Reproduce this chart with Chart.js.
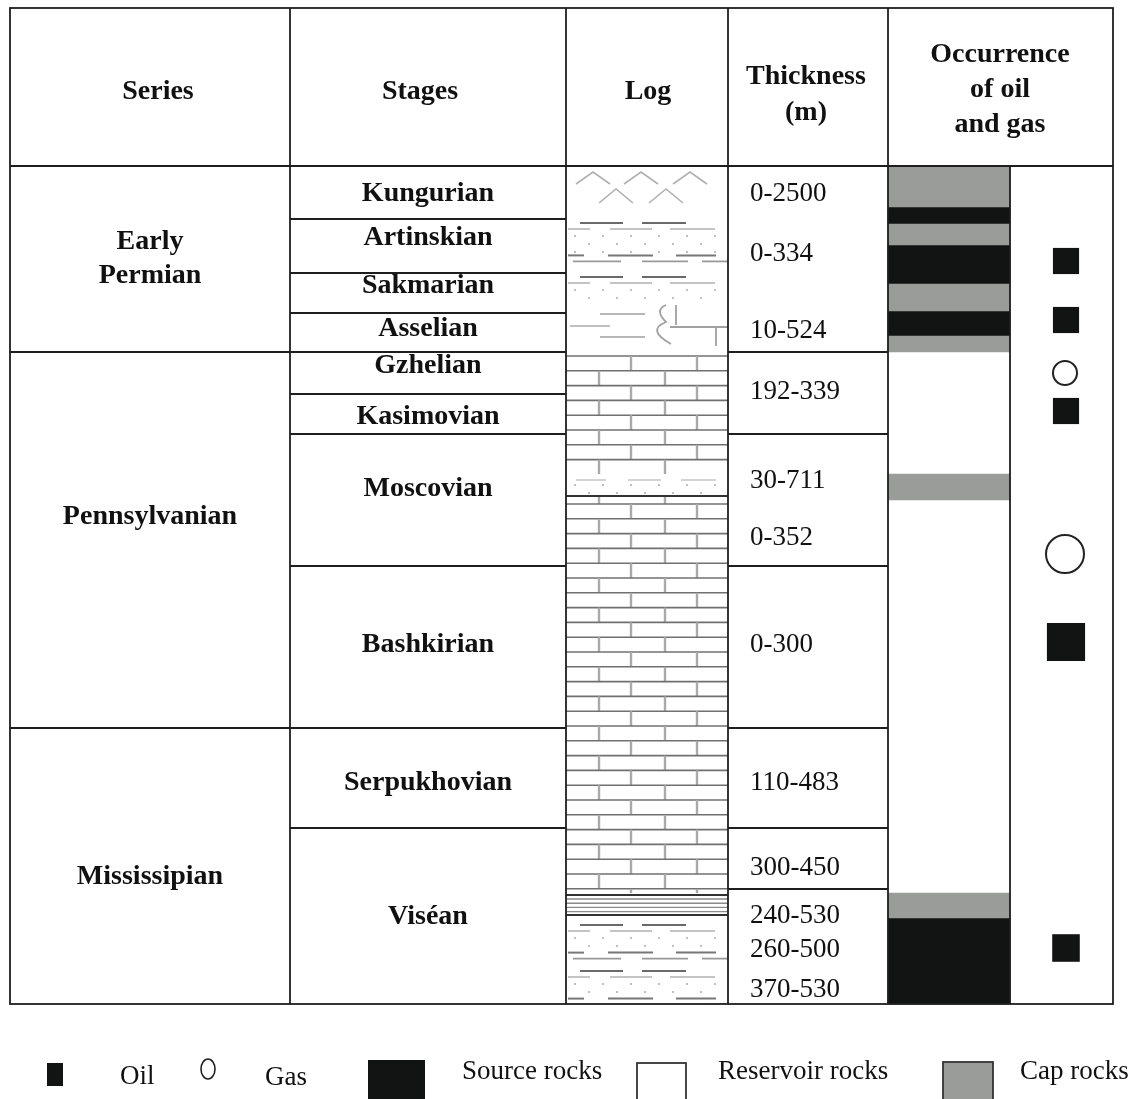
<!DOCTYPE html>
<html lang="en">
<head>
<meta charset="UTF-8">
<title>Stratigraphic column</title>
<script src="https://cdn.jsdelivr.net/npm/chart.js"></script>
<style>
  body { margin: 0; background: #fff; }
  .wrap { width: 1139px; height: 1099px; position: relative; }
</style>
</head>
<body>
<div class="wrap"><canvas id="column"></canvas></div>
<script>
// ---- data (depth in chart units, measured down from the top of the figure) ----
const seriesNames = [['Early', 'Permian'], ['Pennsylvanian'], ['Mississipian']];
const seriesTops = [166, 352, 728, 1004];
const seriesLabelDepth = [259, 517, 877];

const stageNames = ['Kungurian', 'Artinskian', 'Sakmarian', 'Asselian', 'Gzhelian',
                    'Kasimovian', 'Moscovian', 'Bashkirian', 'Serpukhovian', 'Viséan'];
const stageTops = [166, 219, 273, 313, 352, 394, 434, 566, 728, 828, 1004];
const stageLabelDepth = [194, 238, 286, 329, 366, 417, 489, 645, 783, 917];

const thicknessLabels = ['0-2500', '0-334', '10-524', '192-339', '30-711', '0-352',
                         '0-300', '110-483', '300-450', '240-530', '260-500', '370-530'];
const thicknessDepth = [194, 254, 331, 392, 481, 538, 645, 783, 868, 916, 950, 990];
const thicknessCellTops = [166, 352, 434, 566, 728, 828, 889, 1004];

// lithology of the log column
const logUnits = [
  [166, 210, 'anhydrite'], [210, 300, 'siltA'], [300, 352, 'marl'],
  [352, 474, 'limestone'], [474, 497, 'sand'], [497, 893, 'limestone'],
  [893, 916, 'laminated'], [916, 1004, 'siltB']
];

// occurrence of oil and gas
const capRocks = [[166, 207], [224, 245], [284, 311], [336, 352], [474, 500], [893, 918]];
const sourceRocks = [[207, 224], [245, 284], [311, 336], [918, 1004]];
const oilShows = [261, 320, 411, 642, 948];
const gasShows = [373, 554];

// ---- layout ----
const colEdges = [10, 290, 566, 728, 888, 1010, 1113];
const tableTop = 8, headBottom = 166, tableBottom = 1004;
const oilSize = [18.5, 18.5, 18.5, 27, 19.5];
const gasSize = [12, 19];
const BLACK = '#121414', GREY = '#9a9c9a', LINE = '#1e1e1e';
const SERIF = "'Liberation Serif', 'Times New Roman', serif";

function line(ctx, x0, y0, x1, y1) {
  ctx.beginPath(); ctx.moveTo(x0, y0); ctx.lineTo(x1, y1); ctx.stroke();
}

function dashRow(ctx, x0, y, segs, color, w) {
  ctx.strokeStyle = color; ctx.lineWidth = w;
  segs.forEach(s => line(ctx, x0 + s[0], y, x0 + s[1], y));
}

function dots(ctx, x0, x1, y0, y1) {
  ctx.fillStyle = '#c0c0c0';
  let r = 0;
  for (let y = y0; y < y1; y += 8, r++) {
    for (let x = x0 + 8 + (r % 2) * 14; x < x1 - 2; x += 28) ctx.fillRect(x, y, 2, 2);
  }
}

function silt(ctx, x0, x1, y0, y1, period) {
  for (let y = y0 + 8; y < y1; y += period) {
    dashRow(ctx, x0, y, [[14, 57], [76, 120]], '#6a6a6a', 2);
    dashRow(ctx, x0, y + 6, [[2, 24], [44, 86], [104, 149]], '#b0b0b0', 1.5);
    dots(ctx, x0, x1, y + 12, y + period * 0.55);
    dashRow(ctx, x0, y + period * 0.6, [[2, 18], [42, 87], [110, 150]], '#777', 2);
    dashRow(ctx, x0, y + period * 0.6 + 6, [[7, 55], [76, 122], [136, 162]], '#999', 1.8);
  }
}

function drawLog(chart) {
  const { ctx, scales: { x: xs, y: ys } } = chart;
  const X = v => xs.getPixelForValue(v), Y = v => ys.getPixelForValue(v);
  const x0 = X(colEdges[2]), x1 = X(colEdges[3]);
  logUnits.forEach(([top, bot, kind]) => {
    const y0 = Y(top), y1 = Y(bot);
    ctx.save();
    ctx.beginPath(); ctx.rect(x0, y0, x1 - x0, y1 - y0); ctx.clip();
    if (kind === 'limestone') {
      let row = 0;
      for (let y = Y(352) + 4; y < Y(tableBottom); y += 14.8, row++) {
        if (y + 15 < y0 || y > y1) continue;
        ctx.strokeStyle = '#707070'; ctx.lineWidth = 1.6;
        line(ctx, x0, y, x1, y);
        ctx.strokeStyle = '#aaaaaa'; ctx.lineWidth = 2.4;
        for (let x = x0 + (row % 2 ? 33 : 65); x < x1; x += 66) line(ctx, x, y, x, y + 14.8);
      }
    } else if (kind === 'anhydrite') {
      ctx.strokeStyle = '#b0b0b0'; ctx.lineWidth = 1.6;
      [[27, 172, 184], [75, 172, 184], [124, 172, 184], [50, 189, 203], [100, 189, 203]].forEach(([cx, a, b]) => {
        ctx.beginPath();
        ctx.moveTo(x0 + cx - 17, Y(b)); ctx.lineTo(x0 + cx, Y(a)); ctx.lineTo(x0 + cx + 17, Y(b));
        ctx.stroke();
      });
    } else if (kind === 'siltA') {
      silt(ctx, x0, x1, y0 + 5, y1, 54);
    } else if (kind === 'siltB') {
      silt(ctx, x0, x1, y0 + 1, y1, 46);
    } else if (kind === 'marl') {
      dashRow(ctx, x0, Y(314), [[34, 79]], '#b8b8b8', 2);
      dashRow(ctx, x0, Y(326), [[4, 44]], '#c0c0c0', 2);
      dashRow(ctx, x0, Y(337), [[34, 79]], '#b8b8b8', 2);
      ctx.strokeStyle = '#a0a0a0'; ctx.lineWidth = 1.8;
      ctx.beginPath();
      ctx.moveTo(x0 + 100, Y(305));
      ctx.quadraticCurveTo(x0 + 88, Y(310), x0 + 100, Y(322));
      ctx.quadraticCurveTo(x0 + 80, Y(330), x0 + 105, Y(344));
      ctx.stroke();
      line(ctx, x0 + 110, Y(305), x0 + 110, Y(325));
      line(ctx, x0 + 104, Y(327), x1, Y(327));
      line(ctx, x0 + 150, Y(327), x0 + 150, Y(346));
    } else if (kind === 'sand') {
      dashRow(ctx, x0, y0 + 6, [[10, 40], [62, 95], [115, 150]], '#d4d4d4', 2);
      dots(ctx, x0, x1, y0 + 10, y1 - 4);
      ctx.strokeStyle = '#333'; ctx.lineWidth = 2;
      line(ctx, x0, y1 - 1, x1, y1 - 1);
    } else if (kind === 'laminated') {
      ctx.strokeStyle = '#333'; ctx.lineWidth = 2;
      line(ctx, x0, y0 + 2, x1, y0 + 2);
      ctx.strokeStyle = '#8a8a8a'; ctx.lineWidth = 1.4;
      for (let y = y0 + 6; y < y1 - 2; y += 4.2) line(ctx, x0, y, x1, y);
      ctx.strokeStyle = '#333'; ctx.lineWidth = 2;
      line(ctx, x0, y1 - 1, x1, y1 - 1);
    }
    ctx.restore();
  });
}

function drawGrid(chart) {
  const { ctx, scales: { x: xs, y: ys } } = chart;
  const X = v => xs.getPixelForValue(v), Y = v => ys.getPixelForValue(v);
  ctx.save();
  ctx.strokeStyle = LINE; ctx.lineWidth = 1.8;
  ctx.strokeRect(X(colEdges[0]), Y(tableTop), X(colEdges[6]) - X(colEdges[0]), Y(tableBottom) - Y(tableTop));
  [1, 2, 3, 4].forEach(i => line(ctx, X(colEdges[i]), Y(tableTop), X(colEdges[i]), Y(tableBottom)));
  line(ctx, X(colEdges[5]), Y(headBottom), X(colEdges[5]), Y(tableBottom));
  line(ctx, X(colEdges[0]), Y(headBottom), X(colEdges[6]), Y(headBottom));
  seriesTops.slice(1, -1).forEach(t => line(ctx, X(colEdges[0]), Y(t), X(colEdges[1]), Y(t)));
  stageTops.slice(1, -1).forEach(t => line(ctx, X(colEdges[1]), Y(t), X(colEdges[2]), Y(t)));
  thicknessCellTops.slice(1, -1).forEach(t => line(ctx, X(colEdges[3]), Y(t), X(colEdges[4]), Y(t)));
  ctx.restore();
}

function drawText(chart) {
  const { ctx, scales: { x: xs, y: ys } } = chart;
  const X = v => xs.getPixelForValue(v), Y = v => ys.getPixelForValue(v);
  const mid = i => (colEdges[i] + colEdges[i + 1]) / 2;
  ctx.save();
  ctx.fillStyle = '#111'; ctx.textBaseline = 'middle'; ctx.textAlign = 'center';
  ctx.font = 'bold 28px ' + SERIF;
  const heads = [[['Series'], 158, [92]], [['Stages'], 420, [92]], [['Log'], 648, [92]],
                 [['Thickness', '(m)'], 806, [77, 113]], [['Occurrence', 'of oil', 'and gas'], 1000, [55, 90, 125]]];
  heads.forEach(([lines, cx, ys2]) => lines.forEach((t, k) => ctx.fillText(t, X(cx), Y(ys2[k]))));
  seriesNames.forEach((lines, i) => {
    const n = lines.length;
    lines.forEach((t, k) => ctx.fillText(t, X(mid(0)), Y(seriesLabelDepth[i] + (k - (n - 1) / 2) * 34)));
  });
  stageNames.forEach((t, i) => ctx.fillText(t, X(mid(1)), Y(stageLabelDepth[i])));
  ctx.font = '27px ' + SERIF; ctx.textAlign = 'left';
  thicknessLabels.forEach((t, i) => ctx.fillText(t, X(colEdges[3] + 22), Y(thicknessDepth[i])));
  ctx.restore();
}

function drawLegend(chart) {
  const { ctx, scales: { x: xs, y: ys } } = chart;
  const X = v => xs.getPixelForValue(v), Y = v => ys.getPixelForValue(v);
  ctx.save();
  ctx.fillStyle = BLACK;
  ctx.fillRect(X(47), Y(1063), 16, 23);
  ctx.strokeStyle = '#222'; ctx.lineWidth = 1.6;
  ctx.beginPath(); ctx.ellipse(X(208), Y(1069), 7, 10, 0, 0, Math.PI * 2); ctx.stroke();
  ctx.fillRect(X(368), Y(1060), 57, 40);
  ctx.strokeStyle = '#333'; ctx.lineWidth = 1.8;
  ctx.strokeRect(X(637), Y(1063), 49, 40);
  ctx.fillStyle = GREY; ctx.fillRect(X(943), Y(1062), 50, 40);
  ctx.strokeRect(X(943), Y(1062), 50, 40);
  ctx.fillStyle = '#111'; ctx.font = '27px ' + SERIF; ctx.textBaseline = 'middle';
  [['Oil', 120, 1077], ['Gas', 265, 1078], ['Source rocks', 462, 1072],
   ['Reservoir rocks', 718, 1072], ['Cap rocks', 1020, 1072]].forEach(([t, x, y]) => ctx.fillText(t, X(x), Y(y)));
  ctx.restore();
}

const tablePlugin = {
  id: 'tablePlugin',
  beforeDraw(chart) {
    const { ctx } = chart;
    ctx.save(); ctx.fillStyle = '#fff'; ctx.fillRect(0, 0, chart.width, chart.height); ctx.restore();
    drawLog(chart);
  },
  afterDatasetsDraw(chart) {
    drawGrid(chart);
    drawText(chart);
    drawLegend(chart);
  }
};

const occX = (colEdges[4] + colEdges[5]) / 2;
const showX = 1066;

new Chart(document.getElementById('column'), {
  type: 'scatter',
  data: {
    datasets: [
      { type: 'bar', label: 'Cap rocks', data: capRocks.map(b => ({ x: occX, y: b })),
        backgroundColor: GREY, barThickness: colEdges[5] - colEdges[4], grouped: false },
      { type: 'bar', label: 'Source rocks', data: sourceRocks.map(b => ({ x: occX, y: b })),
        backgroundColor: BLACK, barThickness: colEdges[5] - colEdges[4], grouped: false },
      { label: 'Oil', data: oilShows.map(d => ({ x: showX, y: d })), pointStyle: 'rect',
        pointRadius: oilSize, backgroundColor: BLACK, borderColor: BLACK, borderWidth: 0 },
      { label: 'Gas', data: gasShows.map(d => ({ x: showX - 1, y: d })), pointStyle: 'circle',
        pointRadius: gasSize, backgroundColor: '#fff', borderColor: '#222', borderWidth: 2 }
    ]
  },
  options: {
    responsive: true, maintainAspectRatio: false, animation: false,
    layout: { padding: 0, autoPadding: false },
    events: [],
    plugins: { legend: { display: false }, tooltip: { enabled: false } },
    scales: {
      x: { type: 'linear', min: 0, max: 1139, display: false, offset: false },
      y: { type: 'linear', min: 0, max: 1099, reverse: true, display: false, offset: false }
    }
  },
  plugins: [tablePlugin]
});
</script>
</body>
</html>
